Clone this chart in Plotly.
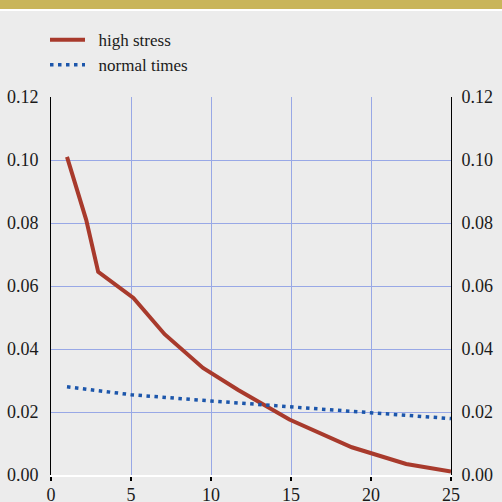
import plotly.graph_objects as go

# Data
stress_x = [1, 2.2, 2.95, 5.15, 7.1, 9.5, 11.7, 14.9, 18.8, 22.2, 25]
stress_y = [0.101, 0.081, 0.0645, 0.0562, 0.0447, 0.034, 0.027, 0.0176, 0.0088, 0.0035, 0.0011]
normal_x = [1, 5, 10, 15, 20, 25]
normal_y = [0.028, 0.0255, 0.0235, 0.0216, 0.0198, 0.0179]
x_ticks = [0, 5, 10, 15, 20, 25]
y_ticks = [0.00, 0.02, 0.04, 0.06, 0.08, 0.10, 0.12]
series_names = ["high stress", "normal times"]

RED = "#A83A2C"
BLUE = "#1C56AB"
GRID = "#98A8E6"
BG = "#ECECEC"
FONT = "'Liberation Serif', 'Times New Roman', Times, 'DejaVu Serif', serif"
PAD = "\u00a0\u00a0"

fig = go.Figure()
fig.add_trace(go.Scatter(x=stress_x, y=stress_y, mode="lines", name=PAD + series_names[0],
                         line=dict(color=RED, width=4)))
fig.add_trace(go.Scatter(x=normal_x, y=normal_y, mode="lines", name=PAD + series_names[1],
                         line=dict(color=BLUE, width=3.5, dash="3.5px,4.5px")))
# invisible copy on the right-hand axis so it gets drawn
fig.add_trace(go.Scatter(x=normal_x, y=normal_y, mode="lines", yaxis="y2",
                         line=dict(color="rgba(0,0,0,0)", width=0), showlegend=False,
                         hoverinfo="skip"))

axis_font = dict(family=FONT, size=18, color="#1a1a1a")

fig.update_layout(
    template="none",
    width=502, height=502,
    margin=dict(l=51, r=51, t=97, b=27),
    paper_bgcolor=BG, plot_bgcolor=BG,
    font=dict(family=FONT, size=17, color="#1a1a1a"),
    showlegend=True,
    legend=dict(x=-0.015, y=1.198, xanchor="left", yanchor="top", itemwidth=35,
                bgcolor="rgba(0,0,0,0)", font=dict(family=FONT, size=17, color="#1a1a1a"),
                tracegroupgap=0),
    xaxis=dict(range=[0, 25], tickvals=x_ticks, showgrid=True, gridcolor=GRID, gridwidth=1,
               zeroline=False, showline=True, linecolor="white", linewidth=2,
               ticks="outside", ticklen=4, tickcolor="black", tickwidth=2,
               ticklabelstandoff=-2, tickfont=axis_font),
    yaxis=dict(range=[0, 0.12], tickvals=y_ticks, tickformat=".2f", showgrid=True,
               gridcolor=GRID, gridwidth=1, zeroline=False, showline=True,
               linecolor="black", linewidth=1, ticks="outside", ticklen=8,
               tickcolor="rgba(0,0,0,0)", tickfont=axis_font),
    yaxis2=dict(range=[0, 0.12], tickvals=y_ticks, tickformat=".2f", overlaying="y",
                side="right", showgrid=False, zeroline=False, showline=True,
                linecolor="black", linewidth=1, ticks="outside", ticklen=6,
                tickcolor="rgba(0,0,0,0)", tickfont=axis_font),
    shapes=[
        dict(type="rect", xref="paper", yref="paper", x0=-0.2, x1=1.2,
             y0=(475 - 9) / 378, y1=(475 + 5) / 378, fillcolor="#C9B55A",
             line=dict(width=0), layer="above"),
        dict(type="rect", xref="paper", yref="paper", x0=-0.2, x1=1.2,
             y0=(475 - 11) / 378, y1=(475 - 9) / 378, fillcolor="white",
             line=dict(width=0), layer="above"),
    ],
)

fig.write_html("out.html", config={"displayModeBar": False},
               post_script="document.body.style.margin='0';document.body.style.overflow='hidden';")
